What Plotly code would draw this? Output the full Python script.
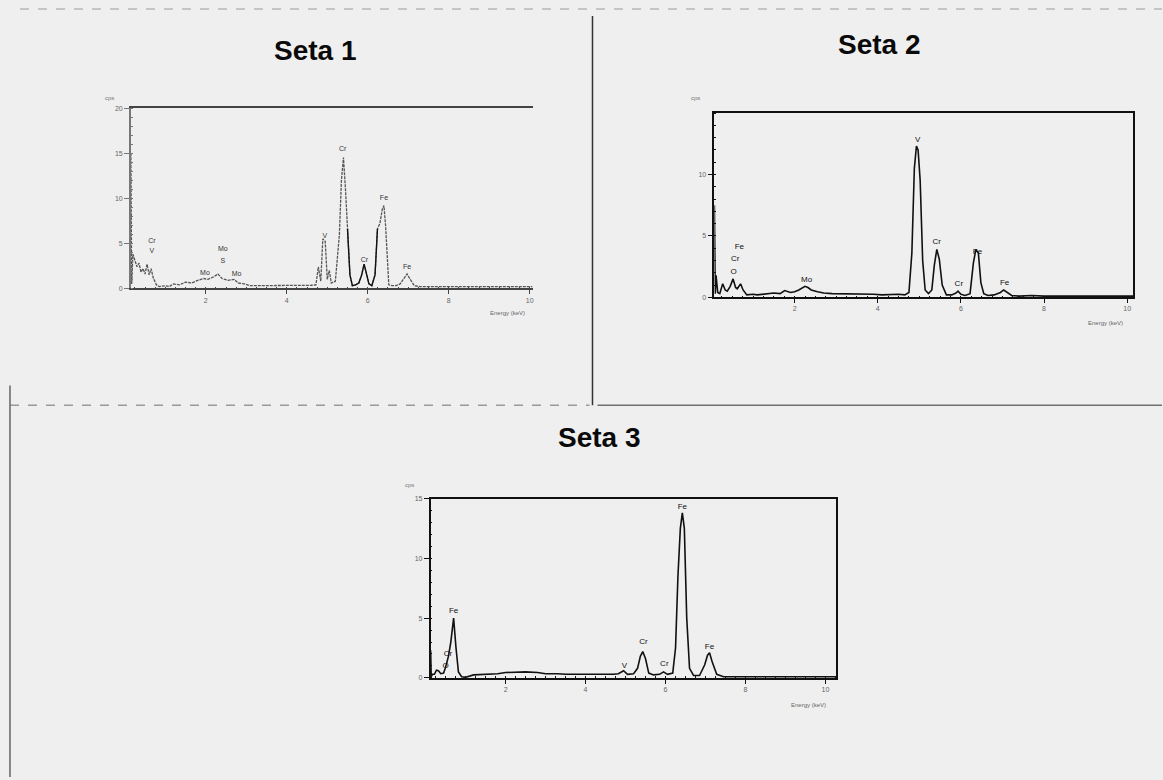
import plotly.graph_objects as go

W, H = 1163, 780

# ---------------- Seta 1 spectrum ----------------
seta1_energy = [0.15, 0.17, 0.20, 0.25, 0.30, 0.35, 0.40, 0.45, 0.50, 0.55, 0.60, 0.65,
                0.70, 0.78, 0.85, 1.00, 1.10, 1.20, 1.35, 1.50, 1.65, 1.80, 1.95, 2.05,
                2.20, 2.30, 2.40, 2.55, 2.70, 2.80, 2.95, 3.10, 3.40, 3.70, 4.00, 4.30,
                4.60, 4.72, 4.78, 4.84, 4.89, 4.95, 5.00, 5.05, 5.10, 5.20, 5.25, 5.30,
                5.35, 5.40, 5.45, 5.50, 5.56, 5.62, 5.70, 5.78, 5.85, 5.91, 5.96, 6.03,
                6.10, 6.18, 6.24, 6.30, 6.36, 6.40, 6.44, 6.48, 6.52, 6.60, 6.70, 6.80,
                6.90, 6.97, 7.05, 7.15, 7.30, 7.60, 8.00, 8.40, 8.80, 9.20, 9.60, 10.07]
seta1_counts = [15.0, 0.5, 3.8, 3.2, 2.4, 2.8, 1.8, 2.2, 1.6, 2.7, 1.5, 2.2,
                1.2, 0.4, 0.2, 0.3, 0.2, 0.5, 0.4, 0.7, 0.6, 0.9, 1.1, 1.0,
                1.3, 1.6, 1.1, 0.9, 1.0, 0.6, 0.5, 0.3, 0.3, 0.3, 0.3, 0.3,
                0.35, 0.4, 2.4, 0.8, 5.5, 5.2, 1.0, 2.0, 0.6, 0.8, 3.7, 6.0,
                12.0, 14.5, 11.0, 6.6, 1.5, 0.3, 0.4, 0.6, 1.5, 2.7, 1.8, 0.5,
                0.3, 1.5, 6.6, 7.2, 8.8, 9.2, 7.0, 3.0, 0.4, 0.3, 0.3, 0.5,
                1.1, 1.6, 1.0, 0.3, 0.2, 0.2, 0.2, 0.15, 0.2, 0.15, 0.15, 0.2]
seta1_labels = ["Cr", "V", "Mo", "S", "Mo", "Mo", "V", "Cr", "Cr", "Fe", "Fe"]
seta1_label_energy = [0.67, 0.67, 2.42, 2.42, 1.98, 2.76, 4.94, 5.38, 5.92, 6.40, 6.97]
seta1_label_counts = [5.2, 4.1, 4.3, 3.0, 1.7, 1.6, 5.8, 15.4, 3.1, 10.0, 2.3]

# ---------------- Seta 2 spectrum ----------------
seta2_energy = [0.07, 0.09, 0.11, 0.15, 0.20, 0.27, 0.33, 0.38, 0.45, 0.52, 0.58, 0.62,
                0.70, 0.76, 0.85, 1.00, 1.10, 1.30, 1.50, 1.65, 1.76, 1.90, 2.00, 2.10,
                2.18, 2.25, 2.32, 2.40, 2.55, 2.70, 2.90, 3.10, 3.30, 3.50, 3.70, 3.90,
                4.10, 4.30, 4.50, 4.65, 4.75, 4.82, 4.88, 4.93, 4.97, 5.02, 5.08, 5.14,
                5.22, 5.30, 5.36, 5.42, 5.48, 5.55, 5.65, 5.78, 5.88, 5.93, 6.00, 6.10,
                6.22, 6.30, 6.36, 6.42, 6.48, 6.55, 6.65, 6.80, 6.95, 7.03, 7.10, 7.22,
                7.40, 7.70, 8.00, 8.40, 8.80, 9.20, 9.60, 10.14]
seta2_counts = [7.5, 0.3, 1.8, 0.4, 0.3, 1.1, 0.6, 0.5, 0.9, 1.5, 0.8, 0.7,
                1.1, 0.6, 0.2, 0.25, 0.2, 0.3, 0.35, 0.3, 0.55, 0.4, 0.45, 0.6,
                0.75, 0.9, 0.8, 0.6, 0.45, 0.35, 0.3, 0.3, 0.25, 0.3, 0.25, 0.25,
                0.2, 0.25, 0.25, 0.2, 0.4, 3.6, 10.5, 12.3, 12.0, 9.5, 3.0, 0.6,
                0.3, 0.6, 2.6, 3.9, 3.1, 1.0, 0.2, 0.2, 0.35, 0.5, 0.25, 0.15,
                0.3, 2.8, 3.9, 3.6, 1.2, 0.3, 0.15, 0.2, 0.4, 0.6, 0.45, 0.15,
                0.1, 0.15, 0.1, 0.1, 0.1, 0.1, 0.12, 0.1]
seta2_labels = ["O", "Cr", "Fe", "Mo", "V", "Cr", "Cr", "Fe", "Fe"]
seta2_label_energy = [0.53, 0.57, 0.67, 2.29, 4.96, 5.42, 5.95, 6.40, 7.05]
seta2_label_counts = [2.1, 3.1, 4.1, 1.4, 12.8, 4.5, 1.1, 3.7, 1.2]

# ---------------- Seta 3 spectrum ----------------
seta3_energy = [0.125, 0.14, 0.17, 0.22, 0.27, 0.32, 0.38, 0.45, 0.50, 0.57, 0.63, 0.70,
                0.76, 0.82, 0.90, 1.00, 1.20, 1.50, 1.80, 2.00, 2.30, 2.50, 2.80, 3.00,
                3.30, 3.50, 3.80, 4.00, 4.30, 4.50, 4.70, 4.82, 4.95, 5.05, 5.20, 5.30,
                5.37, 5.43, 5.50, 5.58, 5.70, 5.85, 5.95, 6.05, 6.18, 6.25, 6.31, 6.37,
                6.42, 6.47, 6.53, 6.60, 6.70, 6.85, 6.98, 7.05, 7.10, 7.17, 7.28, 7.45,
                7.70, 8.00, 8.30, 8.60, 9.00, 9.40, 9.80, 10.27]
seta3_counts = [2.3, 0.1, 0.3, 0.3, 0.65, 0.6, 0.35, 0.4, 0.9, 1.8, 3.0, 5.0,
                2.5, 0.5, 0.1, 0.05, 0.25, 0.3, 0.35, 0.45, 0.5, 0.5, 0.45, 0.35,
                0.35, 0.3, 0.3, 0.3, 0.25, 0.25, 0.3, 0.35, 0.6, 0.3, 0.35, 0.8,
                1.8, 2.2, 1.6, 0.4, 0.25, 0.3, 0.5, 0.3, 0.4, 2.5, 8.5, 12.5,
                13.8, 12.5, 5.0, 0.8, 0.2, 0.2, 1.1, 1.9, 2.1, 1.3, 0.3, 0.1,
                0.1, 0.1, 0.05, 0.1, 0.05, 0.1, 0.05, 0.1]
seta3_labels = ["O", "Cr", "Fe", "V", "Cr", "Cr", "Fe", "Fe"]
seta3_label_energy = [0.50, 0.56, 0.70, 4.97, 5.45, 5.97, 6.42, 7.10]
seta3_label_counts = [1.0, 2.0, 5.6, 1.0, 3.0, 1.2, 14.3, 2.6]

panel_titles = ["Seta 1", "Seta 2", "Seta 3"]


def px_x(p):
    return p / W


def px_y(p):
    return 1 - p / H


fig = go.Figure()

# Seta 1: grey dashed trace with the Cr K-beta window drawn solid black
fig.add_trace(go.Scatter(x=seta1_energy, y=seta1_counts, mode="lines",
                         line=dict(color="#555555", width=1.3, dash="3px,1px"),
                         xaxis="x", yaxis="y", showlegend=False, hoverinfo="skip"))
i0, i1 = seta1_energy.index(5.50), seta1_energy.index(6.24) + 1
fig.add_trace(go.Scatter(x=seta1_energy[i0:i1], y=seta1_counts[i0:i1], mode="lines",
                         line=dict(color="#111111", width=1.4),
                         xaxis="x", yaxis="y", showlegend=False, hoverinfo="skip"))
fig.add_trace(go.Scatter(x=seta1_label_energy, y=seta1_label_counts, mode="text",
                         text=seta1_labels, textfont=dict(size=7, color="#333333",
                                                          family="Liberation Sans"),
                         xaxis="x", yaxis="y", showlegend=False, hoverinfo="skip"))

fig.add_trace(go.Scatter(x=seta2_energy, y=seta2_counts, mode="lines",
                         line=dict(color="#111111", width=1.6),
                         xaxis="x2", yaxis="y2", showlegend=False, hoverinfo="skip"))
fig.add_trace(go.Scatter(x=seta2_label_energy, y=seta2_label_counts, mode="text",
                         text=seta2_labels, textfont=dict(size=8, color="#111111",
                                                          family="Liberation Sans"),
                         xaxis="x2", yaxis="y2", showlegend=False, hoverinfo="skip"))

fig.add_trace(go.Scatter(x=seta3_energy, y=seta3_counts, mode="lines",
                         line=dict(color="#111111", width=1.6),
                         xaxis="x3", yaxis="y3", showlegend=False, hoverinfo="skip"))
fig.add_trace(go.Scatter(x=seta3_label_energy, y=seta3_label_counts, mode="text",
                         text=seta3_labels, textfont=dict(size=8, color="#111111",
                                                          family="Liberation Sans"),
                         xaxis="x3", yaxis="y3", showlegend=False, hoverinfo="skip"))

tickfont = dict(size=7, color="#666666", family="Liberation Sans")


def xaxis_cfg(domain, rng, anchor, mirror, color="#111111"):
    return dict(domain=domain, range=rng, anchor=anchor, showgrid=False, zeroline=False,
                showline=True, linecolor=color, linewidth=1.5, mirror=mirror,
                tickmode="array", tickvals=[2, 4, 6, 8, 10], ticks="outside",
                ticklen=4, tickcolor=color, tickfont=tickfont,
                minor=dict(dtick=0.25, ticks="inside", ticklen=2, tickcolor=color),
                fixedrange=True)


def yaxis_cfg(domain, rng, anchor, mirror, tickvals, color="#111111"):
    return dict(domain=domain, range=rng, anchor=anchor, showgrid=False, zeroline=False,
                showline=True, linecolor=color, linewidth=1.5, mirror=mirror,
                tickmode="array", tickvals=tickvals, ticks="outside", ticklen=5,
                tickcolor=color, tickfont=tickfont,
                minor=dict(dtick=1, ticks="inside", ticklen=2, tickcolor=color),
                fixedrange=True)


fig.update_layout(
    width=W, height=H, autosize=False,
    margin=dict(l=0, r=0, t=0, b=0),
    paper_bgcolor="#efefef", plot_bgcolor="#efefef",
    font=dict(family="Liberation Sans", color="#111111"),
    xaxis=xaxis_cfg([px_x(131), px_x(533)], [0.15, 10.07], "y", True, color="#444444"),
    yaxis=yaxis_cfg([px_y(287), px_y(105)], [0, 20], "x", False, [0, 5, 10, 15, 20],
                    color="#777777"),
    xaxis2=xaxis_cfg([px_x(715), px_x(1134)], [0.07, 10.14], "y2", True),
    yaxis2=yaxis_cfg([px_y(296), px_y(110)], [0, 15], "x2", True, [0, 5, 10]),
    xaxis3=xaxis_cfg([px_x(431), px_x(837)], [0.125, 10.27], "y3", True),
    yaxis3=yaxis_cfg([px_y(680), px_y(499)], [0, 15], "x3", True, [0, 5, 10, 15]),
)

# Panel titles
for text, cx, cy in zip(panel_titles, [316, 880, 600], [47, 41, 437]):
    fig.add_annotation(text=f"<b>{text}</b>", x=px_x(cx), y=px_y(cy), xref="paper",
                       yref="paper", showarrow=False, xanchor="center", yanchor="middle",
                       font=dict(size=28, color="#0a0a0a", family="Liberation Sans"))

# Axis captions
for cx, cy in [(508, 312), (1106, 322), (809, 707)]:
    fig.add_annotation(text="Energy (keV)", x=px_x(cx), y=px_y(cy), xref="paper",
                       yref="paper", showarrow=False, xanchor="center", yanchor="middle",
                       font=dict(size=6, color="#666666", family="Liberation Sans"))
for cx, cy in [(110, 95), (696, 95), (410, 485)]:
    fig.add_annotation(text="cps", x=px_x(cx), y=px_y(cy), xref="paper",
                       yref="paper", showarrow=False, xanchor="center", yanchor="middle",
                       font=dict(size=6, color="#777777", family="Liberation Sans"))

# Page frame lines separating the three panels
frame = [
    dict(x0=20, y0=5, x1=1163, y1=5, color="#b8b8b8", width=1.5, dash="dash"),
    dict(x0=593, y0=12, x1=593, y1=405, color="#333333", width=1.5, dash="solid"),
    dict(x0=10, y0=405, x1=590, y1=405, color="#9a9a9a", width=1.5, dash="dash"),
    dict(x0=598, y0=405, x1=1163, y1=405, color="#707070", width=1.5, dash="solid"),
    dict(x0=10, y0=385, x1=10, y1=780, color="#666666", width=1.5, dash="solid"),
]
for s in frame:
    fig.add_shape(type="line", xref="paper", yref="paper",
                  x0=px_x(s["x0"]), y0=px_y(s["y0"]), x1=px_x(s["x1"]), y1=px_y(s["y1"]),
                  line=dict(color=s["color"], width=s["width"], dash=s["dash"]))

fig.write_html("out.html")
